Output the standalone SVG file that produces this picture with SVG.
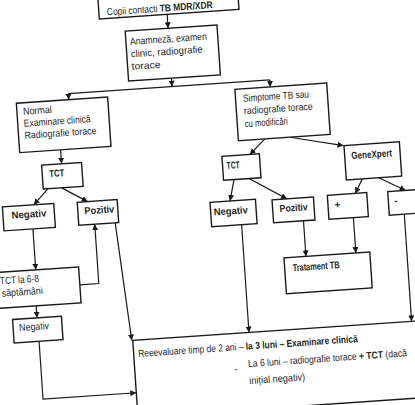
<svg xmlns="http://www.w3.org/2000/svg" width="415" height="405" viewBox="0 0 415 405">
<defs>
<marker id="ah" markerUnits="userSpaceOnUse" markerWidth="7" markerHeight="6" refX="6" refY="3" orient="auto">
<path d="M0,0 L6,3 L0,6 z" fill="#1a1a1a"/>
</marker>
<style>
.box{fill:#fff;stroke:#1a1a1a;stroke-width:1.4}
.t{font-family:"Liberation Sans",Arial,sans-serif;font-size:10px;fill:#1f1f1f}
.b{font-weight:bold}
.c{fill:none;stroke:#1a1a1a;stroke-width:1.2;marker-end:url(#ah)}
.l{fill:none;stroke:#1a1a1a;stroke-width:1.2}
</style>
</defs>
<rect x="0" y="0" width="415" height="405" fill="#fff"/>
<g transform="rotate(-3.9 207 202)">
<g id="connectors">
<line class="c" x1="180" y1="12" x2="180" y2="26"/>
<line class="c" x1="180" y1="76" x2="180" y2="84.5"/>
<line class="l" x1="76" y1="84.5" x2="278" y2="84.5"/>
<line class="c" x1="76" y1="84.5" x2="76" y2="90.5"/>
<line class="c" x1="278" y1="84.5" x2="278" y2="91.5"/>
<line class="c" x1="64.5" y1="140" x2="64.5" y2="154"/>
<line class="c" x1="49" y1="178" x2="34" y2="193"/>
<line class="c" x1="63" y1="178" x2="88" y2="193.5"/>
<line class="c" x1="31.5" y1="217" x2="31.5" y2="258"/>
<line class="c" x1="29.5" y1="294" x2="29.5" y2="306"/>
<path class="c" d="M30,329.5 V387.5 H123.5"/>
<path class="c" d="M74.5,276 H93.5 V216.5"/>
<line class="c" x1="114" y1="216.5" x2="122.5" y2="335"/>
<line class="c" x1="269" y1="143" x2="253" y2="157.5"/>
<line class="c" x1="294" y1="143" x2="347" y2="155"/>
<line class="c" x1="235.5" y1="181.5" x2="230" y2="202.5"/>
<line class="c" x1="250.5" y1="181.5" x2="287" y2="204.3"/>
<line class="c" x1="363.5" y1="189.5" x2="355.5" y2="203.5"/>
<line class="c" x1="380" y1="189.5" x2="406" y2="204"/>
<line class="c" x1="302" y1="227.3" x2="302" y2="263"/>
<line class="c" x1="352" y1="227.5" x2="352" y2="263"/>
<line class="c" x1="240" y1="227" x2="240" y2="335"/>
<line class="c" x1="403" y1="227.5" x2="403" y2="335"/>
</g>
<g id="start">
<rect class="box" x="112" y="-20" width="140" height="32"/>
<text class="t" x="120" y="9" textLength="106" lengthAdjust="spacingAndGlyphs">Copii contacti <tspan class="b">TB MDR/XDR</tspan></text>
</g>
<g id="anamneza">
<rect class="box" x="137" y="26" width="92" height="50"/>
<text class="t" x="141" y="40" textLength="77" lengthAdjust="spacingAndGlyphs">Anamneză, examen</text>
<text class="t" x="141" y="52.5" textLength="72" lengthAdjust="spacingAndGlyphs">clinic, radiografie</text>
<text class="t" x="141" y="65" textLength="29" lengthAdjust="spacingAndGlyphs">torace</text>
</g>
<g id="normal">
<rect class="box" x="23.5" y="90.5" width="91.5" height="49.5"/>
<text class="t" x="29.5" y="102.5" textLength="29" lengthAdjust="spacingAndGlyphs">Normal</text>
<text class="t" x="29.5" y="114.5" textLength="67" lengthAdjust="spacingAndGlyphs">Examinare clinică</text>
<text class="t" x="29.5" y="126.5" textLength="72" lengthAdjust="spacingAndGlyphs">Radiografie torace</text>
</g>
<g id="simptome">
<rect class="box" x="242.5" y="91.5" width="92" height="51.5"/>
<text class="t" x="250" y="104.5" textLength="66" lengthAdjust="spacingAndGlyphs">Simptome TB sau</text>
<text class="t" x="250" y="117" textLength="69" lengthAdjust="spacingAndGlyphs">radiografie torace</text>
<text class="t" x="250" y="130" textLength="43" lengthAdjust="spacingAndGlyphs">cu modificări</text>
</g>
<g id="tct-left">
<rect class="box" x="44.5" y="154" width="40" height="24"/>
<text class="t b" x="51.5" y="166.5" textLength="15" lengthAdjust="spacingAndGlyphs">TCT</text>
</g>
<g id="negativ-left">
<rect class="box" x="2.5" y="193" width="51.5" height="24"/>
<text class="t b" x="11" y="205.5" textLength="35" lengthAdjust="spacingAndGlyphs">Negativ</text>
</g>
<g id="pozitiv-left">
<rect class="box" x="77.5" y="193.5" width="40" height="23"/>
<text class="t b" x="84" y="206" textLength="30" lengthAdjust="spacingAndGlyphs">Pozitiv</text>
</g>
<g id="tct-6-8">
<rect class="box" x="-15" y="258" width="89.5" height="36"/>
<text class="t" x="-5" y="270" textLength="39" lengthAdjust="spacingAndGlyphs">TCT la 6-8</text>
<text class="t" x="-4" y="282.5" textLength="41" lengthAdjust="spacingAndGlyphs">săptămâni</text>
</g>
<g id="negativ-2">
<rect class="box" x="5" y="306" width="49" height="23.5"/>
<text class="t" x="11" y="318" textLength="30" lengthAdjust="spacingAndGlyphs">Negativ</text>
</g>
<g id="tct-right">
<rect class="box" x="225" y="157.5" width="37.5" height="24"/>
<text class="t b" x="229" y="170.5" textLength="13" lengthAdjust="spacingAndGlyphs">TCT</text>
</g>
<g id="genexpert">
<rect class="box" x="347.5" y="155" width="55.5" height="34.5"/>
<text class="t b" x="354" y="169" textLength="41" lengthAdjust="spacingAndGlyphs">GeneXpert</text>
</g>
<g id="negativ-right">
<rect class="box" x="210" y="202.5" width="45.5" height="24.5"/>
<text class="t b" x="213" y="216" textLength="34" lengthAdjust="spacingAndGlyphs">Negativ</text>
</g>
<g id="pozitiv-right">
<rect class="box" x="272" y="204.3" width="41.5" height="23"/>
<text class="t b" x="279" y="217" textLength="28" lengthAdjust="spacingAndGlyphs">Pozitiv</text>
</g>
<g id="plus">
<rect class="box" x="327.5" y="203.5" width="39.5" height="24"/>
<text class="t b" x="334" y="217">+</text>
</g>
<g id="minus">
<rect class="box" x="388" y="204" width="40" height="23.5"/>
<text class="t b" x="394" y="217">-</text>
</g>
<g id="tratament">
<rect class="box" x="280" y="263" width="86" height="36"/>
<text class="t b" x="288" y="277" textLength="47" lengthAdjust="spacingAndGlyphs">Tratament TB</text>
</g>
<g id="reevaluare">
<rect class="box" x="123.5" y="335" width="300" height="77"/>
<text class="t" x="128" y="352" textLength="220" lengthAdjust="spacingAndGlyphs">Reeevaluare timp de 2 ani – <tspan class="b">la 3 luni – Examinare clinică</tspan></text>
<text class="t" x="223" y="374">-</text>
<text class="t" x="237" y="369.5" textLength="159" lengthAdjust="spacingAndGlyphs">La 6 luni – radiografie torace <tspan class="b">+ TCT</tspan> (dacă</text>
<text class="t" x="237" y="386.5" textLength="56" lengthAdjust="spacingAndGlyphs">inițial negativ)</text>
</g>
</g>
</svg>
